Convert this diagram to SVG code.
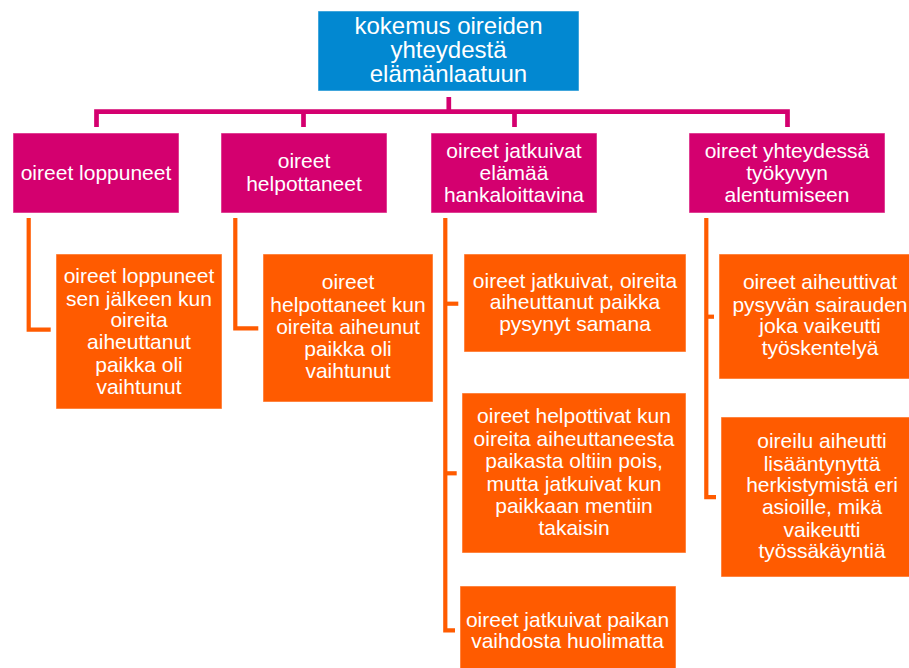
<svg xmlns="http://www.w3.org/2000/svg" width="909" height="668" viewBox="0 0 909 668">
<style>
.bg{fill:#ffffff}
.blue{fill:#0288D1;stroke:#ffffff;stroke-opacity:0.5;stroke-width:1}
.mag{fill:#D4006F;stroke:#ffffff;stroke-opacity:0.5;stroke-width:1}
.org{fill:#FF5B00;stroke:#ffffff;stroke-opacity:0.5;stroke-width:1}
.t{font-family:"Liberation Sans",Arial,sans-serif;fill:#ffffff;text-anchor:middle;font-size:21px}
.tt{font-size:24px}
.cm{fill:none;stroke:#D4006F;stroke-width:4.7;stroke-linejoin:miter;stroke-linecap:butt}
.co{fill:none;stroke:#FF5B00;stroke-width:4.2;stroke-linejoin:miter;stroke-linecap:butt}
</style>
<rect class="bg" x="0" y="0" width="909" height="668"/>
<g id="connectors">
<path class="cm" d="M448.8 97 V111.7"/>
<path class="cm" d="M96.5 127 V111.7 H787.5 V127"/>
<path class="cm" d="M303.5 111.7 V127"/>
<path class="cm" d="M514.5 111.7 V127"/>
<path class="co" d="M28.7 218 V329.7 H50.7"/>
<path class="co" d="M235.3 218 V328.3 H258.3"/>
<path class="co" d="M445.3 218 V630.3 H455"/>
<path class="co" d="M445.3 303.7 H458.3"/>
<path class="co" d="M445.3 473.3 H456.7"/>
<path class="co" d="M706.3 218 V497.2 H716"/>
<path class="co" d="M706.3 316.7 H714"/>
</g>
<g id="root">
<rect class="blue" x="318" y="11" width="261" height="80"/>
<text class="t tt"><tspan x="448.5" y="34.3">kokemus oireiden</tspan><tspan x="448.5" y="57.8">yhteydestä</tspan><tspan x="448.5" y="81.5">elämänlaatuun</tspan></text>
</g>
<g id="cat1">
<rect class="mag" x="13" y="133" width="166" height="80"/>
<text class="t"><tspan x="96" y="179.5">oireet loppuneet</tspan></text>
</g>
<g id="cat2">
<rect class="mag" x="221" y="133" width="166" height="80"/>
<text class="t"><tspan x="304" y="168">oireet</tspan><tspan x="304" y="190.7">helpottaneet</tspan></text>
</g>
<g id="cat3">
<rect class="mag" x="431" y="133" width="166" height="80"/>
<text class="t"><tspan x="514" y="157.5">oireet jatkuivat</tspan><tspan x="514" y="180">elämää</tspan><tspan x="514" y="202.3">hankaloittavina</tspan></text>
</g>
<g id="cat4">
<rect class="mag" x="689" y="133" width="196" height="80"/>
<text class="t"><tspan x="787" y="157.5">oireet yhteydessä</tspan><tspan x="787" y="180">työkyvyn</tspan><tspan x="787" y="202.3">alentumiseen</tspan></text>
</g>
<g id="sub1">
<rect class="org" x="56" y="254" width="166" height="155"/>
<text class="t"><tspan x="139" y="283">oireet loppuneet</tspan><tspan x="139" y="305.5">sen jälkeen kun</tspan><tspan x="139" y="327">oireita</tspan><tspan x="139" y="349.3">aiheuttanut</tspan><tspan x="139" y="371.7">paikka oli</tspan><tspan x="139" y="394">vaihtunut</tspan></text>
</g>
<g id="sub2">
<rect class="org" x="263" y="254" width="170" height="148"/>
<text class="t"><tspan x="348" y="289">oireet</tspan><tspan x="348" y="311.7">helpottaneet kun</tspan><tspan x="348" y="334">oireita aiheunut</tspan><tspan x="348" y="356">paikka oli</tspan><tspan x="348" y="377.7">vaihtunut</tspan></text>
</g>
<g id="sub3">
<rect class="org" x="464" y="254" width="222" height="98"/>
<text class="t"><tspan x="575" y="287.7">oireet jatkuivat, oireita</tspan><tspan x="575" y="309.3">aiheuttanut paikka</tspan><tspan x="575" y="331">pysynyt samana</tspan></text>
</g>
<g id="sub4">
<rect class="org" x="462" y="393" width="224" height="160"/>
<text class="t"><tspan x="574" y="423.3">oireet helpottivat kun</tspan><tspan x="574" y="445.7">oireita aiheuttaneesta</tspan><tspan x="574" y="468.3">paikasta oltiin pois,</tspan><tspan x="574" y="490.7">mutta jatkuivat kun</tspan><tspan x="574" y="513">paikkaan mentiin</tspan><tspan x="574" y="535">takaisin</tspan></text>
</g>
<g id="sub5">
<rect class="org" x="460" y="586" width="216" height="92"/>
<text class="t"><tspan x="567.5" y="626.7">oireet jatkuivat paikan</tspan><tspan x="567.5" y="648.3">vaihdosta huolimatta</tspan></text>
</g>
<g id="sub6">
<rect class="org" x="719" y="254" width="202" height="125"/>
<text class="t"><tspan x="820" y="289.3">oireet aiheuttivat</tspan><tspan x="820" y="311.7">pysyvän sairauden</tspan><tspan x="820" y="333.3">joka vaikeutti</tspan><tspan x="820" y="355">työskentelyä</tspan></text>
</g>
<g id="sub7">
<rect class="org" x="721" y="417" width="202" height="160"/>
<text class="t"><tspan x="822" y="448.3">oireilu aiheutti</tspan><tspan x="822" y="470.7">lisääntynyttä</tspan><tspan x="822" y="492">herkistymistä eri</tspan><tspan x="822" y="514">asioille, mikä</tspan><tspan x="822" y="536.5">vaikeutti</tspan><tspan x="822" y="558">työssäkäyntiä</tspan></text>
</g>
</svg>
